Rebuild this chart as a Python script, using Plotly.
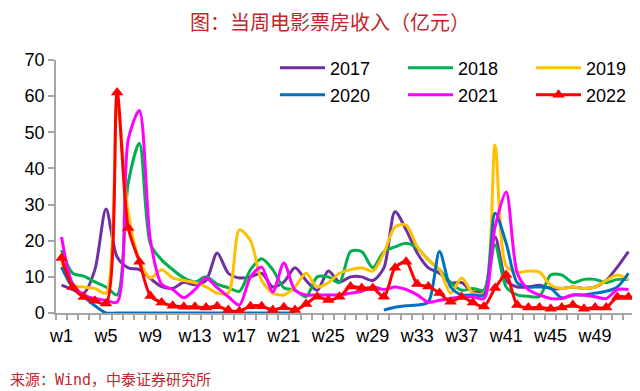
import plotly.graph_objects as go

weeks = list(range(1, 53))
tick_weeks = [1, 5, 9, 13, 17, 21, 25, 29, 33, 37, 41, 45, 49]
tick_labels = ["w1", "w5", "w9", "w13", "w17", "w21", "w25", "w29", "w33", "w37", "w41", "w45", "w49"]

y2017 = [7.7, 6.5, 5.5, 12, 28.8, 15.5, 12.5, 12, 9.5, 7.3, 6.8, 8.5, 7.8, 9, 16.6, 11, 9.7, 10, 11, 7.2,
         8.6, 12.5, 9, 6.3, 11.6, 8.6, 10, 10, 9, 12.5, 28, 23, 16.6, 12.5, 11, 8.4, 8.4, 5.8, 6.2, 21,
         9, 7.2, 7.2, 7.7, 6.8, 6.8, 7.2, 6.8, 7.2, 9, 12.7, 17]
y2018 = [17.4, 11, 10.2, 8.6, 7.2, 5, 36, 47, 19, 14.7, 12, 9.7, 8.6, 10, 8, 7, 6, 12, 15, 12,
         7, 6.3, 4.5, 10, 10, 8.4, 17, 17, 12.5, 17, 18.3, 19.3, 18, 14.7, 12, 8.4, 6.3, 6.8, 6.3, 18.8,
         7.2, 5, 4.6, 4.6, 10.5, 10.5, 8.4, 9.3, 9.3, 8.4, 9.3, 9.3]
y2019 = [14, 7.7, 7.2, 6.8, 5.5, 58, 27.6, 14.7, 9.7, 12, 9.7, 9, 8.4, 7.2, 5.5, 5.5, 23, 20, 9, 5.5,
         5, 7.2, 11, 7.2, 8.4, 11, 12, 12.5, 11.6, 16.6, 23.8, 24.3, 18.3, 14.7, 12, 5.5, 9.7, 5.5, 5.5, 46.5,
         13, 11.3, 11.6, 11.3, 7.7, 6.8, 7.2, 6.8, 7.2, 9, 10.5, 9.3]
y2020 = [12.7, 7, 4.5, 2, 0, 0, 0, 0, 0, 0, 0, 0, 0, 0, 0, 0, 0, 0, 0, 0,
         0, 0, None, None, None, None, None, None, None, 0.8, 1.6, 2, 2.2, 3, 17, 7.2, 5, 5, 5, 27.6,
         19.3, 8.4, 7.2, 7.2, 6.8, 4.2, 5, 5, 5.5, 6, 7.2, 11]
y2021 = [21, 8, 5, 4, 3.5, 3, 48, 56, 20, 8, 6.5, 4.2, 6.5, 9.7, 7, 4.5, 2.2, 10, 12.7, 5.8,
         13.8, 6.3, 5, 5, 5, 5, 5.5, 6, 7.2, 6.5, 7.2, 6.5, 5, 3, 3.5, 4, 4.5, 4.5, 4, 23.8,
         33.5, 11, 6.5, 5, 4, 4, 5, 5, 4.5, 4, 6.5, 6.5]
y2022 = [15.2, 7.2, 4.4, 3.4, 2.6, 61, 23.5, 14.2, 4.7, 2.9, 2, 1.7, 1.7, 1.5, 1.9, 0.8, 0.5, 1.9, 1.9, 0.8,
         1.6, 0.8, 2.5, 4.5, 3.6, 4.5, 7.3, 6.9, 6.9, 4.5, 12.5, 14.2, 8, 7.3, 5.5, 3.1, 4.4, 2.9, 1.8, 6.9,
         10.5, 2.2, 1.5, 1.5, 1.2, 1.5, 2.2, 1.2, 1.5, 1.5, 4.4, 4.4]

series = [
    ("2017", y2017, "#7030A0", "legend"),
    ("2018", y2018, "#00B050", "legend"),
    ("2019", y2019, "#FFC000", "legend"),
    ("2020", y2020, "#0070C0", "legend2"),
    ("2021", y2021, "#FF00FF", "legend2"),
    ("2022", y2022, "#FF0000", "legend2"),
]

fig = go.Figure()
for name, vals, color, leg in series:
    is22 = name == "2022"
    fig.add_trace(go.Scatter(
        x=weeks, y=vals, name=name, legend=leg,
        mode="lines+markers" if is22 else "lines",
        line=dict(color=color, width=3, shape="spline", smoothing=0.8),
        marker=dict(symbol="triangle-up", size=11, color=color) if is22 else None,
        connectgaps=False,
    ))

font_family = "Liberation Sans, Arial, sans-serif"
axis_grey = "#A6A6A6"
src_color = "#C0262D"

# page offset of the figure (browser body margin)
OFF = 8
W, H = 640 - OFF, 391 - OFF
# plot area in page pixels: x 56..634, y 60..313
PL, PT = 56 - OFF, 60 - OFF
PR = W - (634 - OFF)
PB = H - (313 - OFF)
PW, PH = W - PL - PR, H - PT - PB


def px(x_page):
    return (x_page - OFF - PL) / PW


def py(y_page):
    return (H - PB - (y_page - OFF)) / PH


legend_common = dict(
    orientation="h", xanchor="left", yanchor="middle",
    font=dict(family=font_family, size=18, color="#000000"),
    bgcolor="rgba(0,0,0,0)", borderwidth=0,
    entrywidth=68, itemwidth=45, tracegroupgap=0,
)

fig.update_layout(
    width=W, height=H,
    margin=dict(l=PL, r=PR, t=PT, b=PB, autoexpand=False),
    paper_bgcolor="white", plot_bgcolor="white",
    showlegend=True,
    legend=dict(x=px(275), y=py(68), **legend_common),
    legend2=dict(x=px(275), y=py(95), **legend_common),
    xaxis=dict(
        range=[0.5, 52.5], tickmode="array", tickvals=tick_weeks, ticktext=tick_labels,
        ticks="", showline=True, linecolor=axis_grey, linewidth=1.5, showgrid=False, zeroline=False,
        tickfont=dict(family=font_family, size=18, color="#000000"),
        ticklabelstandoff=6,
        minor=dict(ticks="outside", tick0=0.5, dtick=1, ticklen=5, tickcolor=axis_grey, tickwidth=1.5, showgrid=False),
    ),
    yaxis=dict(
        range=[0, 70], tickmode="linear", tick0=0, dtick=10,
        ticks="outside", ticklen=6, tickcolor=axis_grey, tickwidth=1.5,
        showline=True, linecolor=axis_grey, linewidth=1.5, showgrid=False, zeroline=False,
        tickfont=dict(family=font_family, size=18, color="#000000"),
    ),
    annotations=[
        dict(text="图：当周电影票房收入（亿元）", xref="paper", yref="paper",
             x=px(330), y=py(22), xanchor="center", yanchor="middle", borderpad=0,
             showarrow=False, font=dict(family="Noto Sans CJK SC", size=20, color=src_color)),
        dict(text="来源：Wind，中泰证券研究所", xref="paper", yref="paper",
             x=px(OFF), y=py(380), xanchor="left", yanchor="middle",
             showarrow=False, font=dict(family="DejaVu Sans Mono, Noto Sans CJK SC", size=15, color=src_color)),
    ],
)

fig.write_html("out.html")
